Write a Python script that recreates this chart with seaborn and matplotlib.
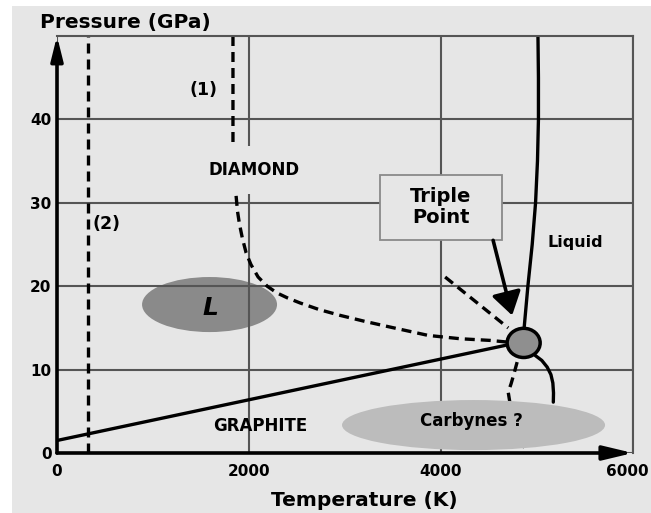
import matplotlib
matplotlib.use("Agg")
import matplotlib.pyplot as plt
import matplotlib.transforms as mtransforms
from matplotlib.patches import Ellipse, Rectangle
import seaborn as sns

bg = "#e6e6e6"
grid_col = "#555555"

x_ticks = [0, 2000, 4000, 6000]
y_ticks = [0, 10, 20, 30, 40]

# phase boundaries (T in K, P in GPa)
line2_T = [323, 323]
line2_P = [0, 50]
diamond_T = [1833, 1833, 1850, 1865, 1880, 1900, 1930, 1970, 2020, 2095, 2190, 2290, 2400, 2530,
             2730, 2950, 3200, 3470, 3866, 4200, 4512, 4690]
diamond_P = [50, 36, 33, 30.9, 29.0, 27.5, 25.8, 24.0, 22.6, 21.1, 20.0, 19.2, 18.6, 18.0,
             17.2, 16.5, 15.8, 15.1, 14.1, 13.7, 13.5, 13.3]
graphite_T = [0, 4668]
graphite_P = [1.5, 12.9]
upper_T = [4043, 4700]
upper_P = [21.1, 15.0]
liquid_T = [4866, 4905, 4950, 4985, 5005, 5015, 5015, 5010]
liquid_P = [15, 20, 25, 30, 35, 40, 45, 50]
lowright_T = [4981, 5050, 5106, 5145, 5165, 5172, 5170]
lowright_P = [11.7, 11.1, 10.3, 9.4, 8.4, 7.2, 6.1]
lowdash_T = [4793, 4760, 4730, 4700, 4760, 4900]
lowdash_P = [10.9, 9.5, 8.3, 7.3, 3.0, 0.0]

triple = (4861, 13.2)

sns.set_style("white", rc={"axes.facecolor": bg, "figure.facecolor": "white",
                           "text.color": "black", "xtick.color": "black", "ytick.color": "black"})
plt.rcParams["font.family"] = ["DejaVu Sans"]
plt.rcParams["font.weight"] = "bold"

fig = plt.figure(figsize=(6.51, 5.13), dpi=100)
fig.patches.append(Rectangle((12 / 651, 0), 1, 1 - 6 / 513, transform=fig.transFigure,
                             facecolor=bg, edgecolor="none", zorder=-10))
ax = fig.add_axes([57 / 651, 60 / 513, 576 / 651, 417 / 513])
ax.set_xlim(0, 6000)
ax.set_ylim(0, 50)
ax.set_xticks(x_ticks)
ax.set_yticks(y_ticks)
ax.set_axisbelow("line")
ax.grid(True, color=grid_col, lw=1.5)
ax.tick_params(length=0, labelsize=11, labelcolor="black")
ax.tick_params(axis="x", pad=8)
ax.tick_params(axis="y", pad=4)
for lab in ax.get_xticklabels() + ax.get_yticklabels():
    lab.set_fontweight("bold")
# keep the last x label inside the figure
last = ax.get_xticklabels()[-1]
last.set_transform(last.get_transform() + mtransforms.ScaledTranslation(-6 / 100, 0, fig.dpi_scale_trans))
for s in ["top", "right"]:
    ax.spines[s].set_color(grid_col)
    ax.spines[s].set_linewidth(1.5)
for s in ["left", "bottom"]:
    ax.spines[s].set_visible(False)

# axis arrows
ax.annotate("", xy=(0, 50), xytext=(0, 0), annotation_clip=False,
            arrowprops=dict(arrowstyle="-|>,head_length=1.45,head_width=0.36", color="black",
                            lw=2.6, shrinkA=0, shrinkB=0, mutation_scale=10), zorder=5)
ax.annotate("", xy=(6000, 0), xytext=(0, 0), annotation_clip=False,
            arrowprops=dict(arrowstyle="-|>,head_length=1.8,head_width=0.43", color="black",
                            lw=2.6, shrinkA=0, shrinkB=0, mutation_scale=10), zorder=5)

# shaded regions
ax.add_patch(Ellipse((1589, 17.8), 1406, 6.6, facecolor="#8a8a8a", edgecolor="none", zorder=1))
ax.add_patch(Ellipse((4339, 3.35), 2740, 6.0, facecolor="#bcbcbc", edgecolor="none", zorder=2.6))

dash = (0, (3, 1.8))
lw = 2.4
kw = dict(sort=False, estimator=None, color="black", lw=lw, ax=ax, zorder=2,
          solid_joinstyle="round", dash_joinstyle="round")
sns.lineplot(x=line2_T, y=line2_P, linestyle=dash, **kw)
sns.lineplot(x=diamond_T, y=diamond_P, linestyle=dash, **kw)
sns.lineplot(x=upper_T, y=upper_P, linestyle=dash, **kw)
sns.lineplot(x=lowdash_T, y=lowdash_P, linestyle=dash, **kw)
sns.lineplot(x=graphite_T, y=graphite_P, **kw)
sns.lineplot(x=liquid_T, y=liquid_P, **kw)
sns.lineplot(x=lowright_T, y=lowright_P, **kw)

ax.add_patch(Ellipse(triple, 344, 3.5, facecolor="#8f8f8f", edgecolor="black", lw=2.5, zorder=4))

# triple point box and arrow
ax.add_patch(Rectangle((3365, 25.5), 1270, 7.8, facecolor=bg, edgecolor="#8a8a8a", lw=1.3, zorder=3))
ax.text(4000, 29.5, "Triple\nPoint", ha="center", va="center", fontsize=14, fontweight="bold",
        linespacing=1.1, zorder=3.5)
ax.annotate("", xy=(4741, 16.5), xytext=(4543, 25.5),
            arrowprops=dict(arrowstyle="-|>,head_length=1.4,head_width=0.9", color="black",
                            lw=2.6, shrinkA=0, shrinkB=0, mutation_scale=10), zorder=4)

# labels
ax.text(2052, 33.9, "DIAMOND", ha="center", va="center", fontsize=12, fontweight="bold", zorder=3,
        bbox=dict(boxstyle="square,pad=0.9", facecolor=bg, edgecolor="none"))
ax.text(1531, 43.5, "(1)", ha="center", va="center", fontsize=12.5, fontweight="bold")
ax.text(375, 27.5, "(2)", ha="left", va="center", fontsize=12.5, fontweight="bold")
ax.text(5400, 25.2, "Liquid", ha="center", va="center", fontsize=11.5, fontweight="bold")
ax.text(2115, 3.2, "GRAPHITE", ha="center", va="center", fontsize=12, fontweight="bold")
ax.text(4315, 3.8, "Carbynes ?", ha="center", va="center", fontsize=12, fontweight="bold", zorder=3)
ax.text(1594, 17.4, "L", ha="center", va="center", fontsize=18, fontweight="bold", style="italic")

fig.text(40 / 651, 1 - 23 / 513, "Pressure (GPa)", ha="left", va="center", fontsize=14.5,
         fontweight="bold")
fig.text(364 / 651, 1 - 501 / 513, "Temperature (K)", ha="center", va="center", fontsize=14.5,
         fontweight="bold")

fig.savefig("out.png", dpi=100)
